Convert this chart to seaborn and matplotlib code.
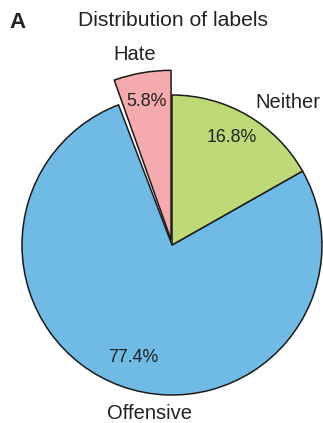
import matplotlib
matplotlib.use("Agg")
import matplotlib.pyplot as plt
import numpy as np
import seaborn as sns

sns.set_theme(style="white")
plt.rcParams["font.family"] = ["Liberation Sans", "DejaVu Sans"]

# Share of each class label in the dataset (percent)
categories = ["Hate", "Offensive", "Neither"]
shares = [5.8, 77.4, 16.8]
colors = ["#F5AAAE", "#70BBE6", "#BEDA77"]
explode = [0.035, 0.0, 0.0]

fig = plt.figure(figsize=(3.23, 4.23), dpi=100)
ax = fig.add_axes([0, 0, 1, 1])

wedges, texts, autotexts = ax.pie(
    shares,
    labels=categories,
    colors=colors,
    explode=explode,
    startangle=90,
    counterclock=True,
    autopct=lambda p: f"{p:.1f}%",
    pctdistance=0.8,
    labeldistance=1.15,
    wedgeprops=dict(edgecolor="#1a1a1a", linewidth=1.1),
    textprops=dict(fontsize=14.5, color="#222222"),
)

# The minority class is drawn a little larger and set apart from its neighbour
wedges[0].set_radius(1.13)
wedges[0].set_theta2(wedges[0].theta2 - 1.3)

# Label placement (data units, pie radius = 1)
label_pos = {"Hate": (-0.25, 1.27), "Offensive": (-0.15, -1.12), "Neither": (0.77, 0.95)}
pct_pos = {"Hate": (-0.17, 0.96), "Offensive": (-0.26, -0.75), "Neither": (0.40, 0.72)}
for cat, t, at in zip(categories, texts, autotexts):
    t.set_position(label_pos[cat])
    t.set_ha("center")
    t.set_va("center")
    at.set_position(pct_pos[cat])
    at.set_ha("center")
    at.set_va("center")
    at.set_fontsize(12.8)

ax.set_xlim(-172 / 150, (323 - 172) / 150)
ax.set_ylim(-(423 - 245) / 150, 245 / 150)
ax.set_aspect("auto")
ax.axis("off")

fig.text(173 / 323, 1 - 20 / 423, "Distribution of labels", ha="center", va="center",
         fontsize=15.2, color="#222222")
fig.text(17 / 323, 1 - 22 / 423, "A", ha="center", va="center", fontsize=16,
         fontweight="bold", color="#222222")

fig.savefig("out.png", dpi=100)
